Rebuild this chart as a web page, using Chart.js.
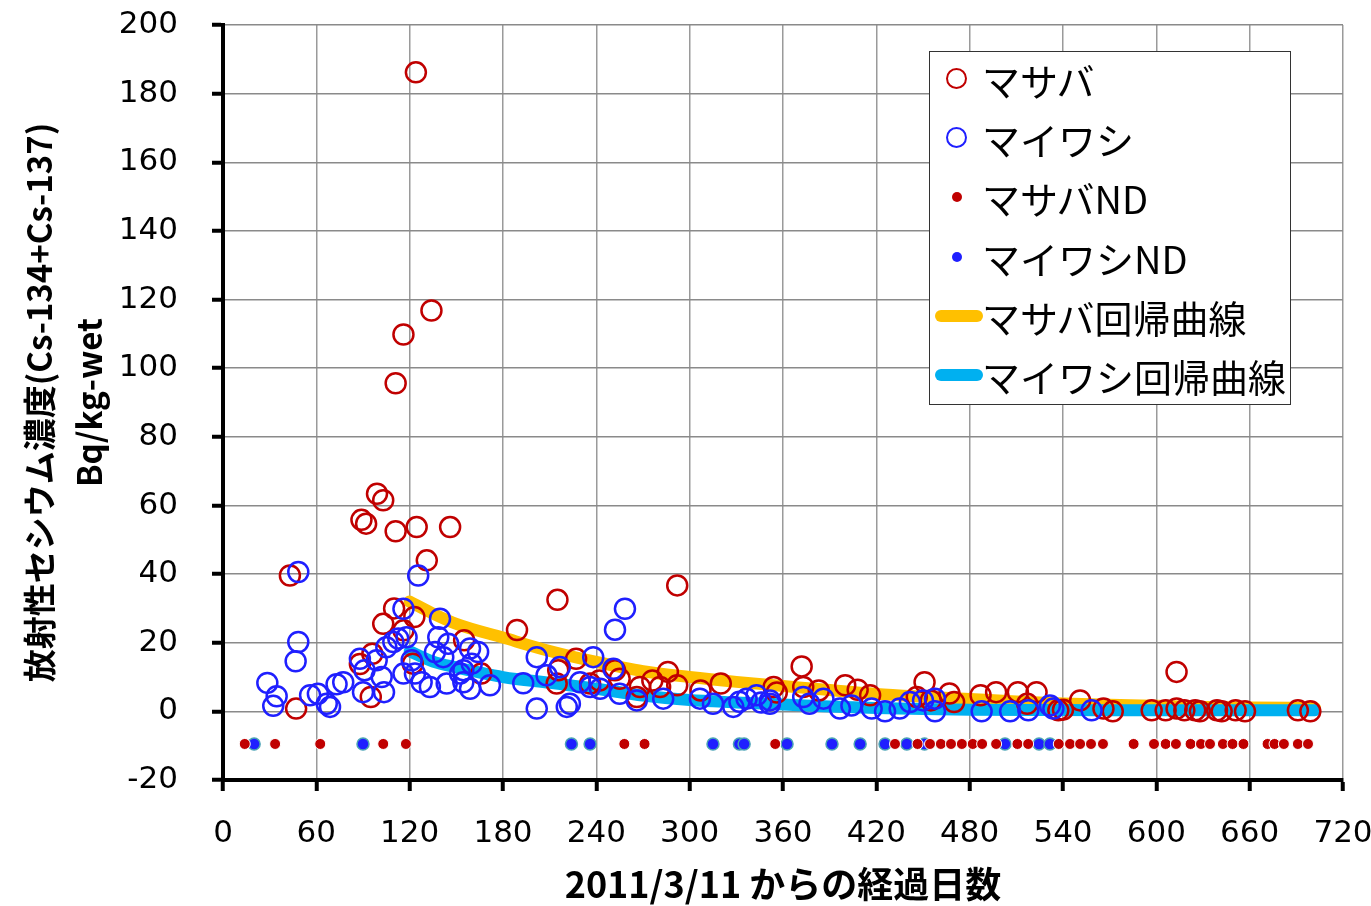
<!DOCTYPE html>
<html lang="ja">
<head>
<meta charset="utf-8">
<title>マサバ・マイワシ 放射性セシウム濃度</title>
<script src="https://cdn.jsdelivr.net/npm/chart.js@4.4.1/dist/chart.umd.min.js"></script>
<style>
  html, body { margin: 0; padding: 0; background: #fff; }
  .wrap { position: relative; width: 1371px; height: 906px; }
  #legend {
    position: absolute; left: 929px; top: 51px; width: 360px; height: 352px;
    background: #fff; border: 1.5px solid #333;
    font-family: 'Noto Sans CJK JP', sans-serif; font-size: 38px; color: #000;
  }
  .row { position: absolute; left: 0; width: 100%; height: 59px; line-height: 59px; white-space: nowrap; }
  .row .txt { position: absolute; left: 52px; top: 0; }
  .ring { position: absolute; left: 16px; top: 18px; width: 17px; height: 17px; border: 2.5px solid; border-radius: 50%; }
  .dot { position: absolute; left: 22px; top: 24px; width: 10px; height: 10px; border-radius: 50%; }
  .bar { position: absolute; left: 5px; top: 23px; width: 48px; height: 12px; border-radius: 6px; }
</style>
</head>
<body>
<div class="wrap">
  <canvas id="mainChart"></canvas>
  <div id="legend">
    <div class="row" style="top:-2px"><span class="ring" style="border-color:#c00000"></span><span class="txt">マサバ</span></div>
    <div class="row" style="top:57px"><span class="ring" style="border-color:#1f1fff"></span><span class="txt">マイワシ</span></div>
    <div class="row" style="top:116px"><span class="dot" style="background:#c00000"></span><span class="txt">マサバND</span></div>
    <div class="row" style="top:176px"><span class="dot" style="background:#1f1fff"></span><span class="txt">マイワシND</span></div>
    <div class="row" style="top:235px"><span class="bar" style="background:#ffc000"></span><span class="txt">マサバ回帰曲線</span></div>
    <div class="row" style="top:294px"><span class="bar" style="background:#00b0f0"></span><span class="txt">マイワシ回帰曲線</span></div>
  </div>
</div>
<script>
// マサバ 検出値 (経過日数, Bq/kg-wet)
const masabaDays = [43, 47, 88, 89, 92, 95, 96, 99, 103, 103, 110, 111, 111, 116, 116, 122, 123, 124, 124.5, 131,
  134, 146, 155, 166, 189, 215, 215.5, 214.5, 227, 236, 242, 252, 255, 266, 268, 276, 281, 286, 292, 292,
  307, 320, 354, 356, 372, 373, 383, 400, 408, 416, 446, 451, 455, 467, 470, 487, 497, 511, 517, 523,
  537, 540, 551, 566, 572, 597, 606, 613, 613, 618, 625, 628, 639, 642, 651, 657, 691, 699];
const masabaValues = [39.6, 0.8, 13.8, 55.8, 54.7, 4.2, 16.8, 63.4, 61.5, 25.5, 30, 95.6, 52.5, 109.8, 23.6, 13.9, 27.5, 186.2, 53.7, 44,
  116.8, 53.7, 20.7, 11, 23.7, 32.5, 12, 8.1, 15.3, 8.1, 9, 12, 9.5, 4.2, 7.1, 9, 7.1, 11.5, 7.6, 36.7,
  6.1, 8.1, 7.1, 5.5, 13.1, 7.1, 6.1, 7.6, 6.3, 4.7, 4.2, 8.5, 3.2, 5.2, 2.7, 4.7, 5.6, 5.6, 2.2, 5.6,
  0.3, 0.5, 3.2, 0.8, 0, 0.3, 0.3, 0.8, 11.5, 0.3, 0.3, 0, 0.3, 0, 0.3, 0, 0.3, 0];

// マイワシ 検出値
const maiwashiDays = [28.5, 34.5, 32.3, 46.7, 48.4, 48.4, 56, 61, 66.7, 68.8, 73, 77.3, 88, 90, 91, 98.8, 102, 103.5, 105, 109.5,
  112.7, 116, 116, 118, 121.3, 123.4, 125.5, 127.7, 133, 136.3, 138.4, 139.5, 141.6, 143.8, 144.8, 152.4, 154.5, 154.5, 158.8, 158.8,
  159.9, 164, 171.6, 193, 201.7, 201.7, 208, 216.6, 221, 223, 229.5, 236, 238, 242.4, 251, 252, 255, 258.4, 266, 283,
  306.6, 315, 328, 332, 336.6, 343, 346, 351.6, 351.6, 373, 377, 386, 396.6, 404, 417, 425.6, 435, 441.6, 450, 457.7,
  457.7, 487.7, 506, 517.7, 531.6, 533.8, 558.4];
const maiwashiValues = [8.3, 4.4, 1.6, 14.6, 20.2, 40.6, 4.7, 5.1, 2.2, 1.3, 7.9, 8.5, 15.3, 5.6, 12, 14.9, 10, 5.6, 18.7, 20.2,
  21.2, 29.9, 11, 21.6, 14.9, 11, 39.6, 8.5, 7.1, 17.3, 21.6, 27, 15.8, 8.1, 19.7, 11, 8.5, 12, 18.3, 6.6,
  13.9, 17.3, 7.6, 8.2, 15.8, 0.8, 10.5, 12.9, 1.3, 2.2, 8.5, 7.1, 15.8, 6.6, 12.4, 23.8, 5.1, 29.9, 3.2, 3.7,
  3.7, 2.2, 1.3, 2.8, 3.7, 4.7, 2.6, 3.2, 2.2, 4.2, 2.2, 3.7, 0.8, 1.7, 0.8, 0, 0.8, 2.7, 3.2, 3.7,
  0, 0, 0, 0.3, 1.7, 0.8, 0.3];

// ND (不検出) の日付。グラフ上では ndPlotLevel の高さに並べる
const masabaNdDays = [14, 33.5, 62.5, 103, 117.6, 258, 271, 355, 432, 446.5, 454.5, 461.5, 468, 475, 482, 488, 497, 510.7, 517.6, 537.3,
  544.5, 551, 558, 565.7, 585.4, 598.5, 606, 612.6, 622, 628.7, 634.5, 642.8, 649, 656, 671.5, 676, 682, 691, 697.5];
const maiwashiNdDays = [20, 90, 224, 236, 315, 332, 335, 362.6, 391.5, 409.6, 425.6, 439.6, 451, 502.7, 524.6, 531.6];
const ndPlotLevel = -9.5;

// 回帰曲線
const masabaFitDays = [120, 135, 150, 180, 210, 240, 270, 300, 330, 360, 390, 420, 450, 480, 510, 540, 570, 600, 630, 660, 702];
const masabaFitValues = [32, 28.5, 25.5, 21.5, 17.6, 14.4, 11.7, 10, 8.6, 7.4, 6.2, 5.1, 4.3, 3.6, 2.9, 2.3, 1.9, 1.6, 1.3, 1.1, 1.0];
const maiwashiFitDays = [120, 135, 150, 180, 210, 240, 270, 300, 330, 360, 390, 420, 450, 480, 540, 600, 702];
const maiwashiFitValues = [17.5, 14.5, 12.8, 10, 8.3, 6.6, 4.6, 3.3, 2.6, 2, 1.4, 1, 0.7, 0.5, 0.4, 0.3, 0.3];

const xTickStep = 60;
const yTickStep = 10;

function toPoints(days, values) {
  return days.map((d, i) => ({ x: d, y: values[i] }));
}
function toNdPoints(days) {
  return days.map((d) => ({ x: d, y: ndPlotLevel }));
}

const ctx = document.getElementById('mainChart').getContext('2d');
const tickFont = { family: 'DejaVu Sans', size: 31 };
const titleFont = { family: 'Noto Sans CJK JP', size: 33, weight: 'bold' };

new Chart(ctx, {
  type: 'scatter',
  data: {
    datasets: [
      {
        label: 'マサバND',
        data: toNdPoints(masabaNdDays),
        backgroundColor: '#c00000',
        borderColor: '#ffffff',
        borderWidth: 1,
        pointRadius: 5.5,
        order: 0,
      },
      {
        label: 'マイワシND',
        data: toNdPoints(maiwashiNdDays),
        backgroundColor: '#1f1fff',
        borderColor: '#4aa3b5',
        borderWidth: 1.5,
        pointRadius: 6,
        order: 1,
      },
      {
        label: 'マイワシ',
        data: toPoints(maiwashiDays, maiwashiValues),
        backgroundColor: 'rgba(0,0,0,0)',
        borderColor: '#1f1fff',
        borderWidth: 2.5,
        pointRadius: 10,
        order: 2,
      },
      {
        label: 'マサバ',
        data: toPoints(masabaDays, masabaValues),
        backgroundColor: 'rgba(0,0,0,0)',
        borderColor: '#c00000',
        borderWidth: 2.5,
        pointRadius: 10,
        order: 3,
      },
      {
        label: 'マイワシ回帰曲線',
        data: toPoints(maiwashiFitDays, maiwashiFitValues),
        showLine: true,
        borderColor: '#00b0f0',
        borderWidth: 12,
        borderCapStyle: 'round',
        pointRadius: 0,
        cubicInterpolationMode: 'monotone',
        order: 4,
      },
      {
        label: 'マサバ回帰曲線',
        data: toPoints(masabaFitDays, masabaFitValues),
        showLine: true,
        borderColor: '#ffc000',
        borderWidth: 12,
        borderCapStyle: 'round',
        pointRadius: 0,
        cubicInterpolationMode: 'monotone',
        order: 5,
      },
    ],
  },
  options: {
    responsive: true,
    maintainAspectRatio: false,
    animation: false,
    layout: { padding: { top: 25, right: 28, left: 0, bottom: 0 } },
    plugins: {
      legend: { display: false },
      tooltip: { enabled: false },
    },
    scales: {
      x: {
        type: 'linear',
        min: 0,
        max: 720,
        afterFit: (scale) => {
          scale.height = 126;
          scale.paddingLeft = 0;
          scale.paddingRight = 0;
        },
        ticks: { stepSize: xTickStep, color: '#000', font: tickFont, padding: 24 },
        grid: { color: '#9a9a9a', lineWidth: 1.5, tickLength: 11, tickWidth: 4, tickColor: '#000' },
        border: { color: '#000', width: 4 },
        title: {
          display: true,
          text: '2011/3/11 からの経過日数',
          color: '#000',
          font: { family: 'Noto Sans CJK JP', size: 36, weight: 'bold' },
          padding: { top: 0, bottom: 0 },
        },
      },
      y: {
        min: -20,
        max: 200,
        afterFit: (scale) => {
          scale.width = 223;
          scale.paddingTop = 0;
          scale.paddingBottom = 0;
        },
        ticks: {
          stepSize: yTickStep,
          color: '#000',
          font: tickFont,
          padding: 34,
          callback: (value) => (value % 20 === 0 ? value : ''),
        },
        grid: {
          color: (c) => (c.tick && c.tick.value % 20 === 0 ? '#8a8a8a' : '#c4c4c4'),
          lineWidth: 1.5,
          tickLength: 11,
          tickWidth: 4,
          tickColor: (c) => (c.tick && c.tick.value % 20 === 0 ? '#000' : 'rgba(0,0,0,0)'),
        },
        border: { color: '#000', width: 4 },
        title: {
          display: true,
          text: ['放射性セシウム濃度(Cs-134+Cs-137)', 'Bq/kg-wet'],
          color: '#000',
          font: { ...titleFont, lineHeight: 1.5 },
          padding: { top: 15, bottom: 0 },
        },
      },
    },
  },
});
</script>
</body>
</html>
